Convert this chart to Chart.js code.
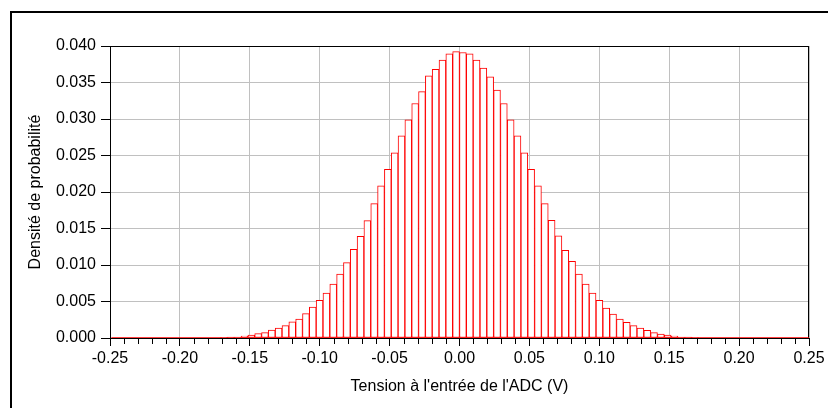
<!DOCTYPE html>
<html>
<head>
<meta charset="utf-8">
<script src="https://cdn.jsdelivr.net/npm/chart.js@4"></script>
<style>
  body { margin: 0; background: #fff; }
  #wrap { position: relative; width: 828px; height: 408px; overflow: hidden; }
  #histo { position: absolute; left: 0; top: 0; }
  #frame { position: absolute; left: 10px; top: 11px; width: 840px; height: 420px; border: 2px solid #000; pointer-events: none; }
</style>
</head>
<body>
<div id="wrap">
  <canvas id="histo" width="828" height="408"></canvas>
  <div id="frame"></div>
</div>
<script>
// largeur d'un pas de l'ADC (V) et indice du premier intervalle
const binWidth = 5 / 1024;
const firstBin = -51;

const density = [
    0, 0, 0, 0, 0, 0, 0, 0, 0, 0, 0, 0, 0, 0, 0, 0,
    0.0001, 0.00014, 0.00014, 0.00027, 0.0004, 0.0006, 0.00073, 0.0011, 0.00137, 0.00169,
    0.0022, 0.0026, 0.00333, 0.00425, 0.00516, 0.00617, 0.0074, 0.00877, 0.01033, 0.01215,
    0.01393, 0.01608, 0.01841, 0.02083, 0.02312, 0.02536, 0.02769, 0.02988, 0.03212, 0.03376,
    0.03591, 0.03682, 0.03806, 0.03893, 0.03924, 0.03911, 0.03893, 0.03806, 0.03696, 0.03577,
    0.03395, 0.03212, 0.02988, 0.02769, 0.02536, 0.02312, 0.02083, 0.01841, 0.01613, 0.01398,
    0.01202, 0.01051, 0.00877, 0.0074, 0.00617, 0.00516, 0.00411, 0.00329, 0.0026, 0.00215,
    0.00169, 0.00137, 0.00105, 0.00073, 0.00055, 0.0004, 0.00027, 0.00014, 0.00014, 0.0001,
    0, 0, 0, 0, 0, 0, 0, 0, 0, 0, 0, 0, 0, 0, 0, 0
];

const xRange = [-0.25, 0.25];
const xStep = 0.01;
const xMajor = 0.05;
const yRange = [0, 0.040];
const yStep = 0.005;

const binCenters = density.map((d, i) => (firstBin + i + 0.5) * binWidth);

function isMajor(v) {
    const r = v / xMajor;
    return Math.abs(r - Math.round(r)) < 1e-6;
}

Chart.defaults.font.family = '"Liberation Sans", Arial, sans-serif';
Chart.defaults.font.size = 16;
Chart.defaults.color = '#000';

// cadre noir autour de la zone de tracé
const plotBox = {
    id: 'plotBox',
    beforeDatasetsDraw(chart) {
        const { ctx, chartArea: a } = chart;
        ctx.save();
        ctx.strokeStyle = '#000';
        ctx.lineWidth = 1;
        ctx.strokeRect(a.left + 0.5, a.top + 0.5, a.right - a.left - 1, a.bottom - a.top);
        ctx.restore();
    }
};

// petites graduations tous les 0.01
const minorTicks = {
    id: 'minorTicks',
    afterDraw(chart) {
        const { ctx } = chart;
        const sx = chart.scales.x;
        ctx.save();
        ctx.strokeStyle = '#000';
        ctx.lineWidth = 1;
        sx.ticks.forEach(t => {
            if (isMajor(t.value)) return;
            const px = Math.round(sx.getPixelForValue(t.value)) + 0.5;
            ctx.beginPath();
            ctx.moveTo(px, sx.top);
            ctx.lineTo(px, sx.top + 6);
            ctx.stroke();
        });
        ctx.restore();
    }
};

new Chart(document.getElementById('histo'), {
    type: 'bar',
    data: {
        datasets: [{
            type: 'line',
            data: [{ x: binCenters[0] - binWidth / 2, y: 0 }, { x: xRange[1], y: 0 }],
            borderColor: '#ff0000',
            borderWidth: 1.5,
            pointRadius: 0,
            order: 0
        }, {
            data: binCenters.map((c, i) => ({ x: c, y: density[i] })),
            backgroundColor: '#ffffff',
            borderColor: '#ff0000',
            borderWidth: 1,
            borderSkipped: false,
            barPercentage: 1,
            categoryPercentage: 1,
            grouped: false,
            order: 1
        }]
    },
    options: {
        responsive: false,
        animation: false,
        devicePixelRatio: 1,
        layout: { padding: { left: 0, top: 46, right: 19, bottom: 0 } },
        plugins: { legend: { display: false }, tooltip: { enabled: false } },
        scales: {
            x: {
                type: 'linear',
                min: xRange[0],
                max: xRange[1],
                offset: false,
                grid: {
                    offset: false,
                    color: ctx => (ctx.tick && isMajor(ctx.tick.value)) ? '#c0c0c0' : 'rgba(0,0,0,0)',
                    tickColor: ctx => (ctx.tick && isMajor(ctx.tick.value)) ? '#000' : 'rgba(0,0,0,0)',
                    tickLength: 8
                },
                border: { color: '#000', width: 1 },
                ticks: {
                    stepSize: xStep,
                    autoSkip: false,
                    maxRotation: 0,
                    padding: 3,
                    callback: v => isMajor(v) ? (Math.abs(v) < 1e-9 ? 0 : v).toFixed(2) : ''
                },
                title: {
                    display: true,
                    text: "Tension à l'entrée de l'ADC (V)",
                    padding: { top: 0, bottom: 12 }
                },
                afterFit: s => { s.height = 70; }
            },
            y: {
                min: yRange[0],
                max: yRange[1],
                grid: { color: '#c0c0c0', tickColor: '#000', tickLength: 9 },
                border: { color: '#000', width: 1 },
                ticks: {
                    stepSize: yStep,
                    padding: 5,
                    callback: v => v.toFixed(3)
                },
                title: {
                    display: true,
                    text: 'Densité de probabilité',
                    padding: { top: 26, bottom: 0 }
                },
                afterFit: s => { s.width = 110; }
            }
        }
    },
    plugins: [plotBox, minorTicks]
});
</script>
</body>
</html>
